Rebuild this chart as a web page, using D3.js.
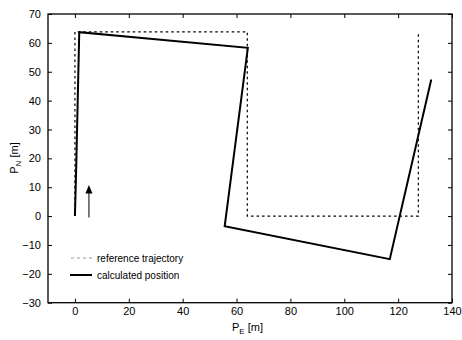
<!DOCTYPE html>
<html><head><meta charset="utf-8">
<script src="https://cdn.jsdelivr.net/npm/d3@7"></script>
<style>
body{margin:0;background:#fff;}
svg{display:block;font-family:"Liberation Sans",Arial,sans-serif;}
</style></head>
<body>
<svg id="c" width="462" height="340"></svg>
<script>
const xTicks = [0, 20, 40, 60, 80, 100, 120, 140];
const yTicks = [70, 60, 50, 40, 30, 20, 10, 0, -10, -20, -30];
const refE = [0, 0, 64, 64, 127.5, 127.5];
const refN = [0, 63.8, 63.8, 0, 0, 63.5];
const calcE = [0, 0.5, 1.6, 64.2, 55.6, 116.9, 132.3];
const calcN = [0, 18, 63.7, 58.3, -3.5, -14.9, 47.3];
const arrowE = [5.2, 5.2];
const arrowN = [-0.5, 10.8];
const legendLabels = ["reference trajectory", "calculated position"];

const svg = d3.select("#c");
const L = 48, R = 452, T = 14, B = 302.7;
const x = d3.scaleLinear().domain([-10, 140]).range([L, R]);
const y = d3.scaleLinear().domain([-30, 70]).range([B, T]);

// axes
const tl = 4;
const axB = d3.axisBottom(x).tickValues(xTicks).tickSize(-tl).tickPadding(5).tickFormat(d3.format("d"));
const axT = d3.axisTop(x).tickValues(xTicks).tickSize(-tl).tickFormat("");
const axL = d3.axisLeft(y).tickValues(yTicks).tickSize(-tl).tickPadding(7).tickFormat(d3.format("d"));
const axR = d3.axisRight(y).tickValues(yTicks).tickSize(-tl).tickFormat("");
function style(g){
  g.select(".domain").remove();
  g.selectAll("line").attr("stroke","#000").attr("stroke-width",1);
  g.selectAll("text").attr("font-size",11).attr("fill","#000");
}
svg.append("g").attr("transform",`translate(0,${B})`).call(axB).call(style);
svg.append("g").attr("transform",`translate(0,${T})`).call(axT).call(style);
svg.append("g").attr("transform",`translate(${L},0)`).call(axL).call(style);
svg.append("g").attr("transform",`translate(${R},0)`).call(axR).call(style);
svg.append("rect").attr("x",L).attr("y",T).attr("width",R-L).attr("height",B-T)
  .attr("fill","none").attr("stroke","#000").attr("stroke-width",1.3);

const line = d3.line().x(d=>x(d[0])).y(d=>y(d[1]));
svg.append("path").datum(refE.map((e,i)=>[e,refN[i]])).attr("d",line)
  .attr("fill","none").attr("stroke","#000").attr("stroke-width",1.2).attr("stroke-dasharray","2.5,3");
svg.append("path").datum(calcE.map((e,i)=>[e,calcN[i]])).attr("d",line)
  .attr("fill","none").attr("stroke","#000").attr("stroke-width",2).attr("stroke-linejoin","miter");

// arrow
svg.append("line").attr("x1",x(arrowE[0])).attr("y1",y(arrowN[0]))
  .attr("x2",x(arrowE[1])).attr("y2",y(arrowN[1])+2)
  .attr("stroke","#000").attr("stroke-width",1);
svg.append("path")
  .attr("d",`M${x(arrowE[1])},${y(arrowN[1])} l-3.5,8.5 l7,0 Z`).attr("fill","#000");

// legend
const lg = svg.append("g");
lg.append("line").attr("x1",71).attr("x2",92).attr("y1",258).attr("y2",258)
  .attr("stroke","#999").attr("stroke-width",1.2).attr("stroke-dasharray","3,3");
lg.append("line").attr("x1",70).attr("x2",92).attr("y1",275).attr("y2",275)
  .attr("stroke","#000").attr("stroke-width",2);
lg.selectAll("text.lg").data(legendLabels).enter().append("text")
  .attr("x",97).attr("y",(d,i)=>258+i*17+3.5).attr("font-size",10).text(d=>d);

// axis labels
const xl = svg.append("text").attr("x",232).attr("y",331).attr("font-size",11);
xl.append("tspan").text("P");
xl.append("tspan").attr("font-size",8).attr("dy",3).text("E");
xl.append("tspan").attr("dy",-3).text(" [m]");
const yl = svg.append("text").attr("transform","translate(18,158) rotate(-90)")
  .attr("text-anchor","middle").attr("font-size",11);
yl.append("tspan").text("P");
yl.append("tspan").attr("font-size",8).attr("dy",3).text("N");
yl.append("tspan").attr("dy",-3).text(" [m]");
</script>
</body></html>
